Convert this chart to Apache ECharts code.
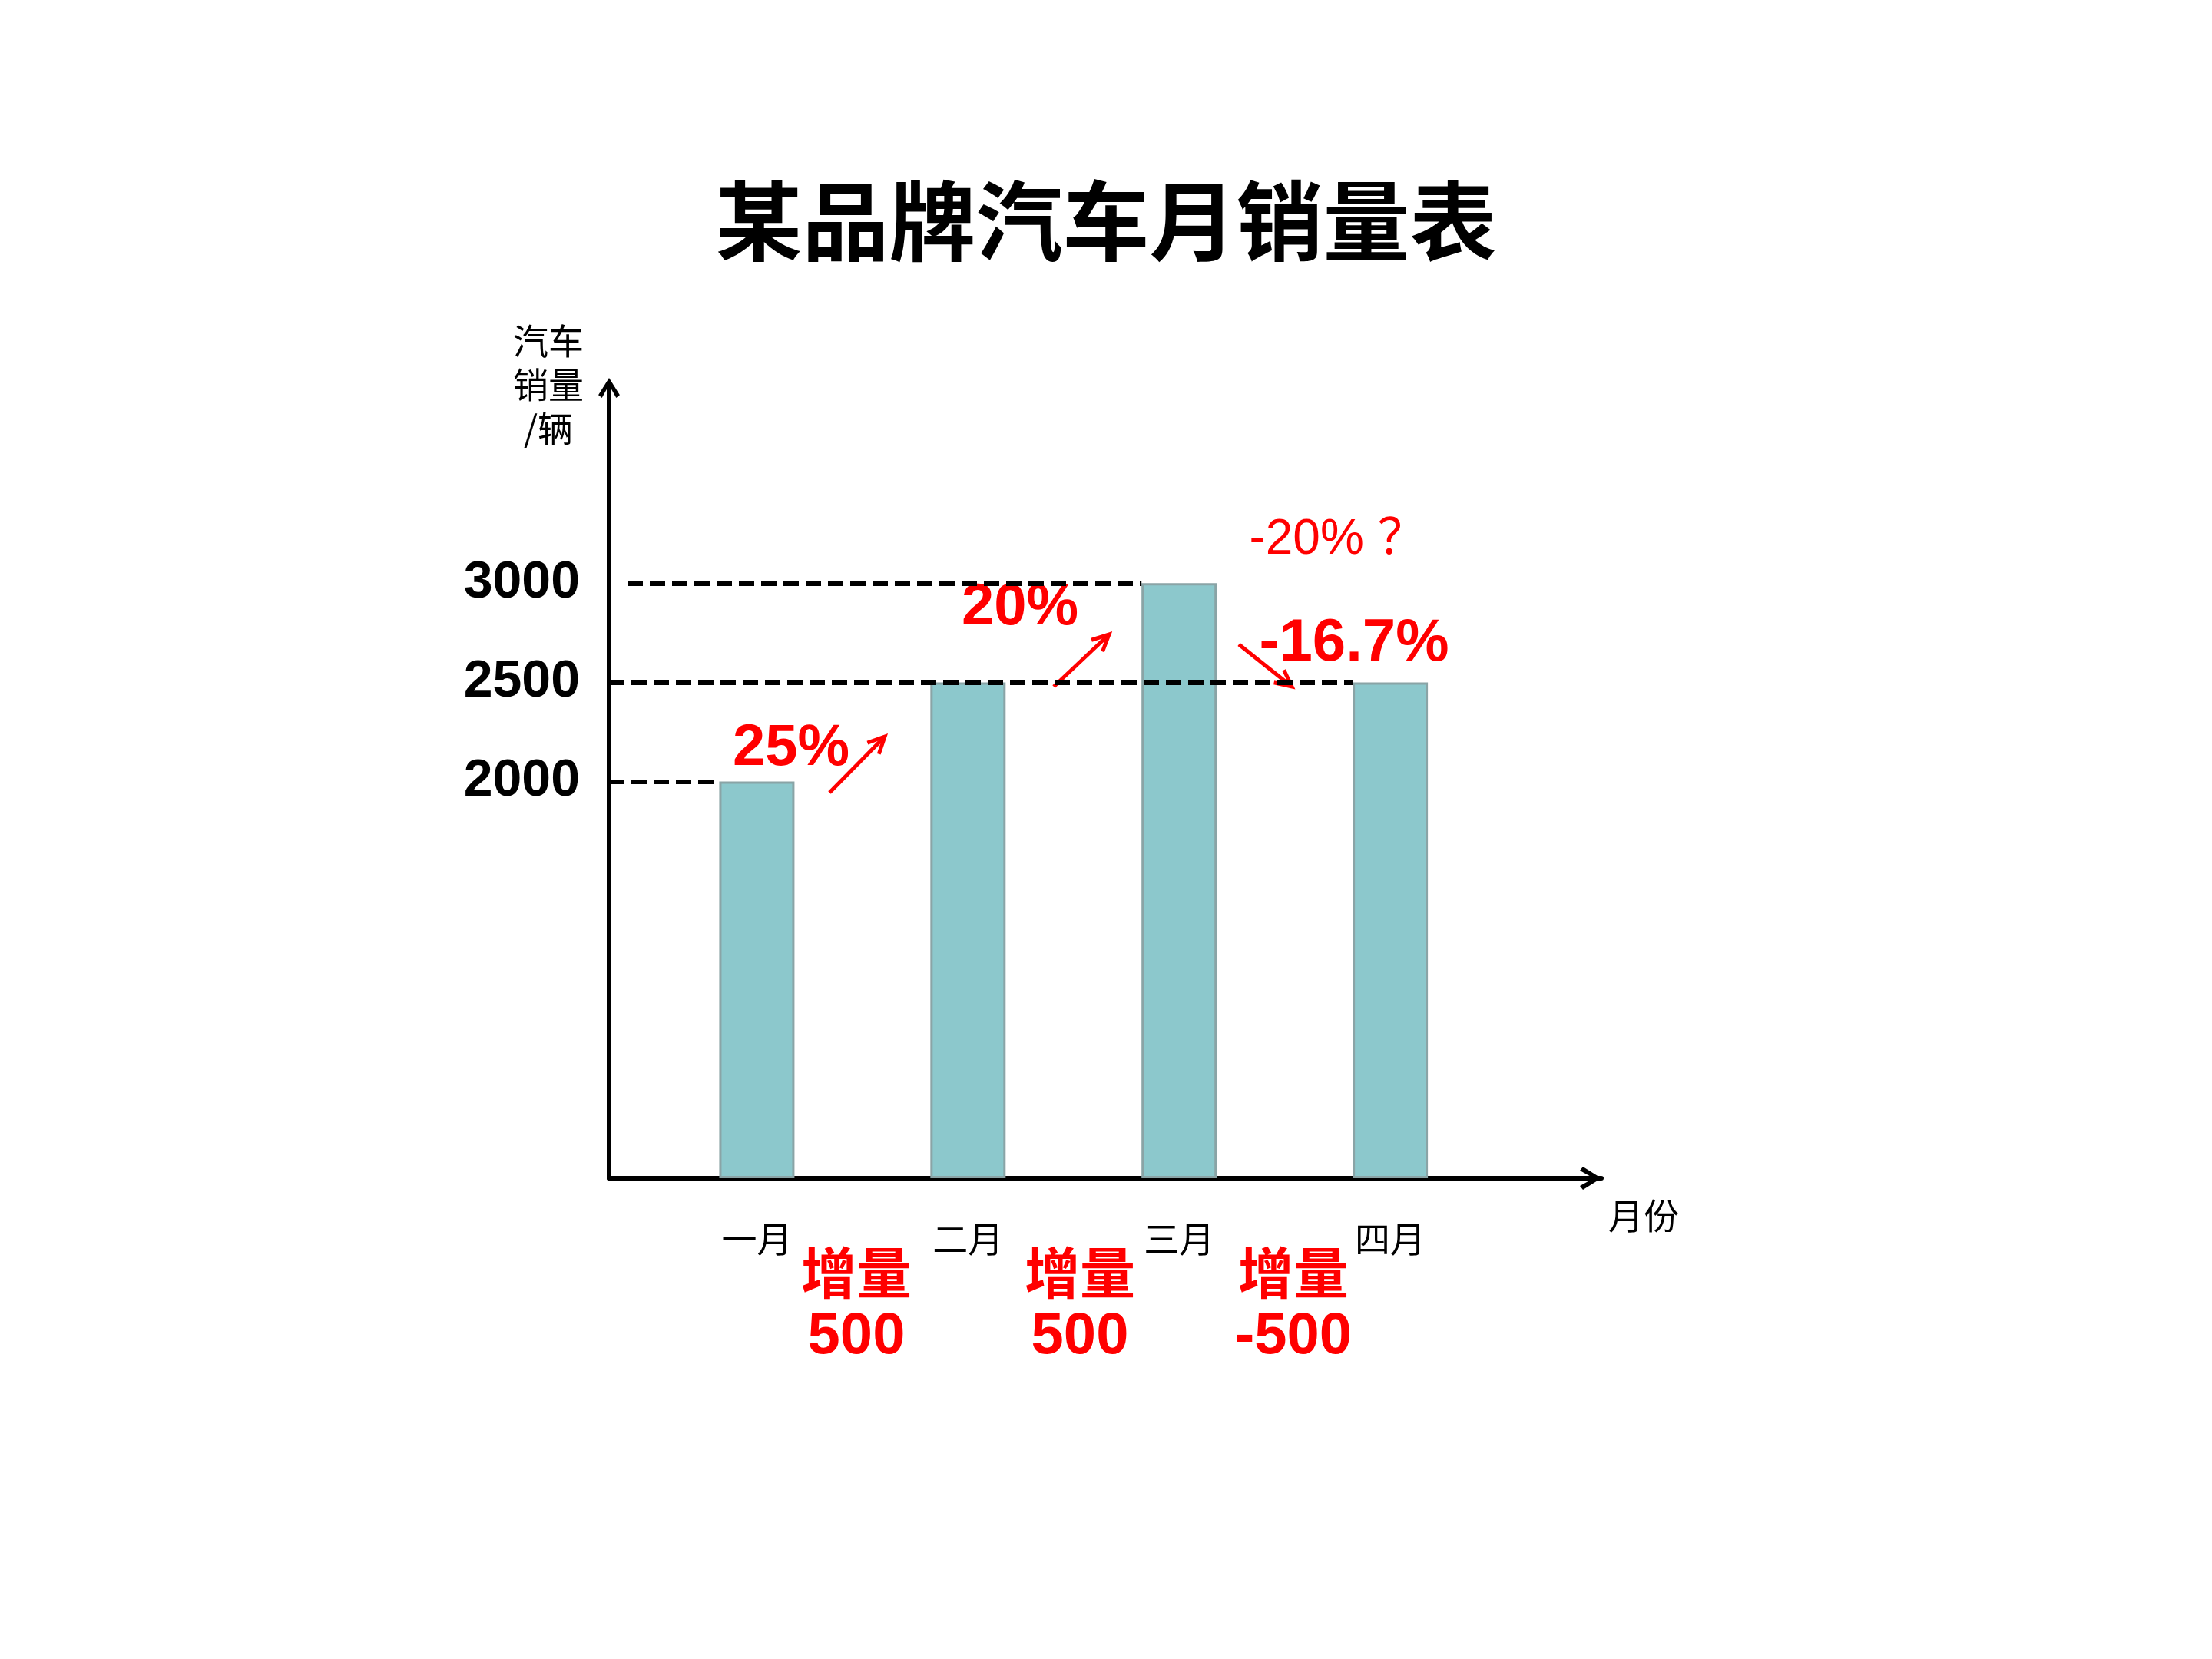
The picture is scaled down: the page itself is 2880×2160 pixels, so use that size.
<!DOCTYPE html>
<html>
<head>
<meta charset="utf-8">
<title>某品牌汽车月销量表</title>
<script src="https://cdn.jsdelivr.net/npm/echarts@6/dist/echarts.min.js"></script>
<style>
  html, body { margin: 0; padding: 0; background: #ffffff; }
  #chart { width: 2880px; height: 2160px; }
</style>
</head>
<body>
<div id="chart"></div>
<script>
// 月份 和 销量
var months = ["一月", "二月", "三月", "四月"];
var sales = [2000, 2500, 3000, 2500];
// y轴只标这几个刻度
var yTickLabels = [2000, 2500, 3000];
// 增长率 / 增量 标注
var growthLabels = ["25%", "20%", "-16.7%"];
var increments = ["500", "500", "-500"];
var guessLabel = "-20% ？";

var chartDom = document.getElementById("chart");
var myChart = echarts.init(chartDom);

// 布局
var gridLeft = 793, gridTop = 501, gridWidth = 1292, gridHeight = 1033;
var xMin = -0.7, xMax = 4;
var barWidth = 98;
var unit = gridWidth / (xMax - xMin);
var halfBar = barWidth / 2 / unit;

var red = "#ff0000";
var latin = "'Liberation Sans', Arial, 'Noto Sans CJK SC', sans-serif";
var cjk = "'Noto Sans CJK SC', sans-serif";

// 开口箭头
var chevron = "path://M15,0 L30,24 L25,28 L15,10 L5,28 L0,24 Z";

// 虚线: 从y轴到对应柱子左边
var guideLines = yTickLabels.map(function (v) {
  var idx = sales.lastIndexOf(v);
  var start = v === 3000 ? xMin + 24 / unit : xMin;
  return [{ coord: [start, v] }, { coord: [idx - halfBar, v] }];
});

function arrow(x1, y1, x2, y2) {
  var a = Math.atan2(y2 - y1, x2 - x1);
  var L = 24, s = 0.45;
  return {
    type: "group",
    children: [
      {
        type: "line",
        shape: { x1: x1, y1: y1, x2: x2, y2: y2 },
        style: { stroke: red, lineWidth: 5 }
      },
      {
        type: "polyline",
        shape: {
          points: [
            [x2 - L * Math.cos(a - s), y2 - L * Math.sin(a - s)],
            [x2, y2],
            [x2 - L * Math.cos(a + s), y2 - L * Math.sin(a + s)]
          ]
        },
        style: { stroke: red, lineWidth: 5, fill: null }
      }
    ]
  };
}

function txt(text, x, y, size, weight, family) {
  return {
    type: "text",
    x: x,
    y: y,
    style: {
      text: text,
      fill: red,
      font: weight + " " + size + "px " + family,
      align: "center",
      verticalAlign: "middle"
    }
  };
}

var graphics = [
  txt(growthLabels[0], 1030, 975, 76, "bold", latin),
  txt(growthLabels[1], 1328, 792, 76, "bold", latin),
  txt(guessLabel, 1742, 703, 64, "normal", latin),
  txt(growthLabels[2], 1763, 838, 78, "bold", latin),
  arrow(1080, 1032, 1152, 959),
  arrow(1372, 894, 1444, 826),
  arrow(1613, 839, 1682, 894)
];
var incX = [1115, 1406, 1684];
increments.forEach(function (t, i) {
  graphics.push(txt("增量", incX[i], 1657, 72, "bold", cjk));
  graphics.push(txt(t, incX[i], 1741, 76, "bold", latin));
});

var option = {
  backgroundColor: "#ffffff",
  animation: false,
  title: {
    text: "某品牌汽车月销量表",
    left: "center",
    top: 226,
    textStyle: {
      fontFamily: cjk,
      fontSize: 113,
      fontWeight: "bold",
      color: "#000000"
    }
  },
  grid: {
    left: gridLeft,
    top: gridTop,
    width: gridWidth,
    height: gridHeight
  },
  xAxis: {
    type: "value",
    min: xMin,
    max: xMax,
    splitLine: { show: false },
    axisTick: { show: false },
    axisLine: {
      show: true,
      onZero: false,
      symbol: ["none", chevron],
      symbolSize: [32, 28],
      symbolOffset: [0, -14],
      lineStyle: { color: "#000000", width: 6 }
    },
    axisLabel: {
      customValues: [0, 1, 2, 3],
      formatter: function (v) { return months[Math.round(v)] || ""; },
      margin: 56,
      fontFamily: cjk,
      fontSize: 46,
      color: "#000000"
    },
    name: "月份",
    nameLocation: "end",
    nameGap: 0,
    nameTextStyle: {
      fontFamily: cjk,
      fontSize: 46,
      color: "#000000",
      align: "left",
      verticalAlign: "top",
      padding: [26, 0, 0, 9]
    }
  },
  yAxis: {
    type: "value",
    min: 0,
    max: 4000,
    interval: 500,
    splitLine: { show: false },
    axisTick: { show: false },
    axisLine: {
      show: true,
      onZero: false,
      symbol: ["none", chevron],
      symbolSize: [30, 26],
      symbolOffset: [0, -4],
      lineStyle: { color: "#000000", width: 6 }
    },
    axisLabel: {
      formatter: function (v) { return yTickLabels.indexOf(v) >= 0 ? String(v) : ""; },
      margin: 38,
      padding: [20, 0, 0, 0],
      fontFamily: latin,
      fontWeight: "bold",
      fontSize: 68,
      color: "#000000"
    },
    name: "汽车\n销量\n/辆",
    nameLocation: "end",
    nameGap: 0,
    nameTextStyle: {
      fontFamily: cjk,
      fontSize: 46,
      lineHeight: 57,
      color: "#000000",
      align: "center",
      verticalAlign: "middle",
      padding: [0, 158, 0, 0]
    }
  },
  series: [
    {
      type: "bar",
      barWidth: barWidth,
      data: sales.map(function (v, i) { return [i, v]; }),
      itemStyle: {
        color: "#8cc8cc",
        borderColor: "#8aa4a6",
        borderWidth: 3
      },
      markLine: {
        silent: true,
        symbol: ["none", "none"],
        label: { show: false },
        lineStyle: { color: "#000000", width: 6, type: [20, 9] },
        data: guideLines
      },
      z: 1
    }
  ],
  graphic: graphics
};

myChart.setOption(option);
</script>
</body>
</html>
